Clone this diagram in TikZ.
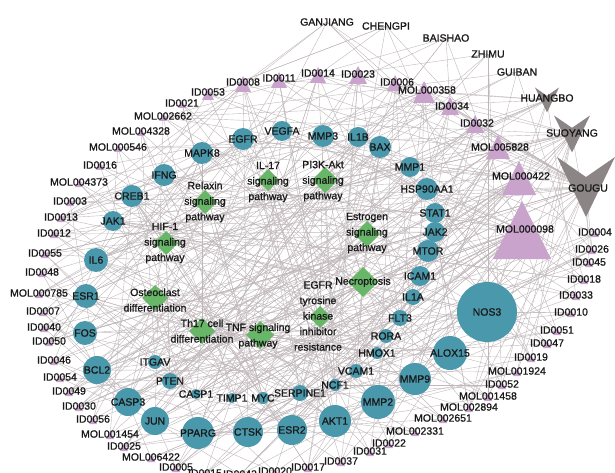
\documentclass[tikz,border=0pt]{standalone}
\usepackage{fontspec}
\setmainfont{Liberation Sans}
\newfontfamily\lblfont{Liberation Sans}[FakeBold=1]
\usetikzlibrary{shapes.geometric}
\pgfdeclarelayer{bg}
\pgfsetlayers{bg,main}
\definecolor{tgtc}{RGB}{74,152,172}
\definecolor{cmpc}{RGB}{201,163,204}
\definecolor{pathc}{RGB}{104,182,104}
\definecolor{herbc}{RGB}{140,133,133}
\definecolor{edgec}{RGB}{192,183,186}
\definecolor{txtc}{RGB}{25,25,25}
\def\tgtlist{t1/202/153/11/MAPK8, t2/243/139/11/EGFR, t3/282/131/10/VEGFA, t4/323/136/11/MMP3, t5/358/137/10/IL1B, t6/380/147/11/BAX, t7/410/167/10/MMP1, t8/427/189/11/HSP90AA1, t9/435/213/10/STAT1, t10/435/232/10/JAK2, t11/428/251/11/MTOR, t12/420/276/10/ICAM1, t13/413/297/8/IL1A, t14/487/312/30/NOS3, t15/400/318/8/FLT3, t16/386/336/7/RORA, t17/377/353/6/HMOX1, t18/356/371/7/VCAM1, t19/335/385/6/NCF1, t20/300/393/8/SERPINE1, t21/263/398/6/MYC, t22/232/398/5/TIMP1, t23/196/394/5/CASP1, t24/170/381/8/PTEN, t25/155/362/7/ITGAV, t26/450/353/17/ALOX15, t27/415/379/16/MMP9, t28/378/402/17/MMP2, t29/335/421/16/AKT1, t30/292/430/15/ESR2, t31/248/432/15/CTSK, t32/198/433/16/PPARG, t33/155/421/14/JUN, t34/128/402/14/CASP3, t35/97/370/14/BCL2, t36/85/333/12/FOS, t37/86/296/12/ESR1, t38/96/260/12/IL6, t39/113/221/10/JAK1, t40/132/196/11/CREB1, t41/164/175/11/IFNG}
\def\cmplist{c1/243/84/8/243/82/ID0008, c2/279/80/8/279/78/ID0011, c3/318/75/8/318/73/ID0014, c4/358/75/9/358/74/ID0023, c5/395/83/8/397/82/ID0006, c6/424/92/11/427/90/MOL000358, c7/450/106/9/452/106/ID0034, c8/475/124/9/477/123/ID0032, c9/498/147/12/500/147/MOL005828, c10/519/178/17/521/176/MOL000422, c11/522/230/29/525/229/MOL000098, c12/595/233/4/595/232/ID0004, c13/592/250/4/592/249/ID0026, c14/589/263/4/589/262/ID0045, c15/584/280/4/584/279/ID0018, c16/576/296/4/576/295/ID0033, c17/571/313/4/571/312/ID0010, c18/557/331/4/557/330/ID0051, c19/547/344/4/547/343/ID0047, c20/531/358/4/531/357/ID0019, c21/517/372/4/517/371/MOL001924, c22/502/385/4/502/384/ID0052, c23/488/397/4/488/396/MOL001458, c24/469/408/4/469/407/MOL002894, c25/443/419/4/443/418/MOL002651, c26/415/432/4/415/431/MOL002331, c27/389/444/4/389/443/ID0022, c28/370/452/4/370/451/ID0031, c29/341/462/4/341/461/ID0037, c30/308/468/4/308/467/ID0017, c31/275/472/4/275/471/ID0020, c32/240/475/4/240/474/ID0043, c33/205/474/4/205/473/ID0015, c34/176/468/4/176/467/ID0005, c35/151/458/4/151/457/MOL006422, c36/124/447/4/124/446/ID0025, c37/110/435/4/110/434/MOL001454, c38/93/420/4/93/419/ID0056, c39/79/407/4/79/406/ID0030, c40/69/392/4/69/391/ID0049, c41/60/378/4/60/377/ID0054, c42/54/361/4/54/360/ID0046, c43/49/342/4/49/341/ID0050, c44/44/328/4/44/327/ID0040, c45/43/312/4/43/311/ID0007, c46/39/294/4/39/293/MOL000785, c47/42/273/4/42/272/ID0048, c48/45/254/4/45/253/ID0055, c49/54/234/4/54/233/ID0012, c50/61/218/4/61/217/ID0013, c51/70/202/4/70/201/ID0003, c52/79/183/4/79/182/MOL004373, c53/100/166/4/100/165/ID0016, c54/118/148/4/118/147/MOL000546, c55/141/132/4/141/131/MOL004328, c56/163/117/4/163/116/MOL002662, c57/182/104/4/182/103/ID0021, c58/208/94/6/208/92/ID0053}
\def\pathlist{p1/205/202/24/205/202/{Relaxin\\signaling\\pathway}, p2/268/180/22/268/182/{IL-17\\signaling\\pathway}, p3/325/180/26/323/181/{PI3K-Akt\\signaling\\pathway}, p4/166/243/24/165/243/{HIF-1\\signaling\\pathway}, p5/367/234/26/367/233/{Estrogen\\signaling\\pathway}, p6/363/282/30/363/282/{Necroptosis}, p7/320/317/22/318/316/{EGFR\\tyrosine\\kinase\\inhibitor\\resistance}, p8/260/335/28/258/336/{TNF signaling\\pathway}, p9/202/331/26/202/331/{Th17 cell\\differentiation}, p10/155/298/26/155/300/{Osteoclast\\differentiation}}
\def\herblist{h1/327/22/327/22/GANJIANG, h2/386/26/386/26/CHENGPI, h3/446/38/446/38/BAISHAO, h4/488/54/488/54/ZHIMU, h5/517/72/517/72/GUIBAN, h6/547/100/547/98/HUANGBO, h7/572/134/572/133/SUOYANG, h8/586/187/588/188/GOUGU}
\begin{document}
\begin{tikzpicture}[x=1pt,y=-1pt,
  every node/.style={inner sep=0pt,outer sep=0pt},
  lbl/.style={font=\lblfont\fontsize{10.5}{15.5}\selectfont, text=txtc, align=center},
  tgt/.style={circle, fill=tgtc},
  pth/.style={diamond, aspect=1, fill=pathc},
  edge/.style={draw=edgec, line width=0.4pt}]
\useasboundingbox (0,0) rectangle (615,473);
% herbs
\foreach \n/\x/\y/\lx/\ly/\t in \herblist { \coordinate (\n) at (\x,\y); }
\foreach \n/\w/\h in {h6/12/12.5, h7/18/18.5, h8/29/30} {
  \fill[herbc] ([shift={(-\w,-\h)}]\n) -- ([shift={(0,-\h/3)}]\n) -- ([shift={(\w,-\h)}]\n) -- ([shift={(0,\h)}]\n) -- cycle;
}
% compounds
\foreach \n/\x/\y/\s/\lx/\ly/\t in \cmplist {
  \coordinate (\n) at (\x,\y);
  \fill[cmpc] ([shift={(-\s,\s)}]\n) -- ([shift={(0,-\s)}]\n) -- ([shift={(\s,\s)}]\n) -- cycle;
}
% targets
\foreach \n/\x/\y/\r/\t in \tgtlist { \node[tgt, minimum size={2pt*\r}] (\n) at (\x,\y) {}; }
% pathways
\foreach \n/\x/\y/\s/\lx/\ly/\t in \pathlist { \node[pth, minimum size={1pt*\s}] (\n) at (\x,\y) {}; }
% labels
\foreach \n/\x/\y/\lx/\ly/\t in \herblist { \node[lbl] (\n-l) at (\lx,\ly) {\t}; }
\foreach \n/\x/\y/\s/\lx/\ly/\t in \cmplist { \node[lbl] (\n-l) at (\lx,\ly) {\t}; }
\foreach \n/\x/\y/\r/\t in \tgtlist { \node[lbl] (\n-l) at (\x,\y) {\t}; }
\foreach \n/\x/\y/\s/\lx/\ly/\t in \pathlist { \node[lbl] (\n-l) at (\lx,\ly) {\t}; }
% edges
\begin{pgfonlayer}{bg}
\pgfmathsetseed{2024}
\foreach \h/\k in {h1/6,h2/6,h3/6,h4/5,h5/5,h6/12,h7/22,h8/32} {
  \foreach \j in {1,...,\k} {
    \pgfmathrandominteger{\r}{1}{58}
    \draw[edge] (\h.center) -- (c\r.center);
  }
}
\foreach \i in {1,...,58} {
  \foreach \j in {1,...,4} {
    \pgfmathrandominteger{\r}{1}{41}
    \draw[edge] (c\i.center) -- (t\r.center);
  }
}
\foreach \i/\k in {1/2,2/2,3/2,4/2,5/2,6/6,7/4,8/4,9/8,10/16,11/26} {
  \foreach \j in {1,...,\k} {
    \pgfmathrandominteger{\r}{1}{41}
    \draw[edge] (c\i.center) -- (t\r.center);
  }
}
\foreach \i in {1,...,41} {
  \foreach \j in {1,2,3} {
    \pgfmathrandominteger{\r}{1}{10}
    \draw[edge] (t\i.center) -- (p\r.center);
  }
}
\end{pgfonlayer}
\end{tikzpicture}
\end{document}
